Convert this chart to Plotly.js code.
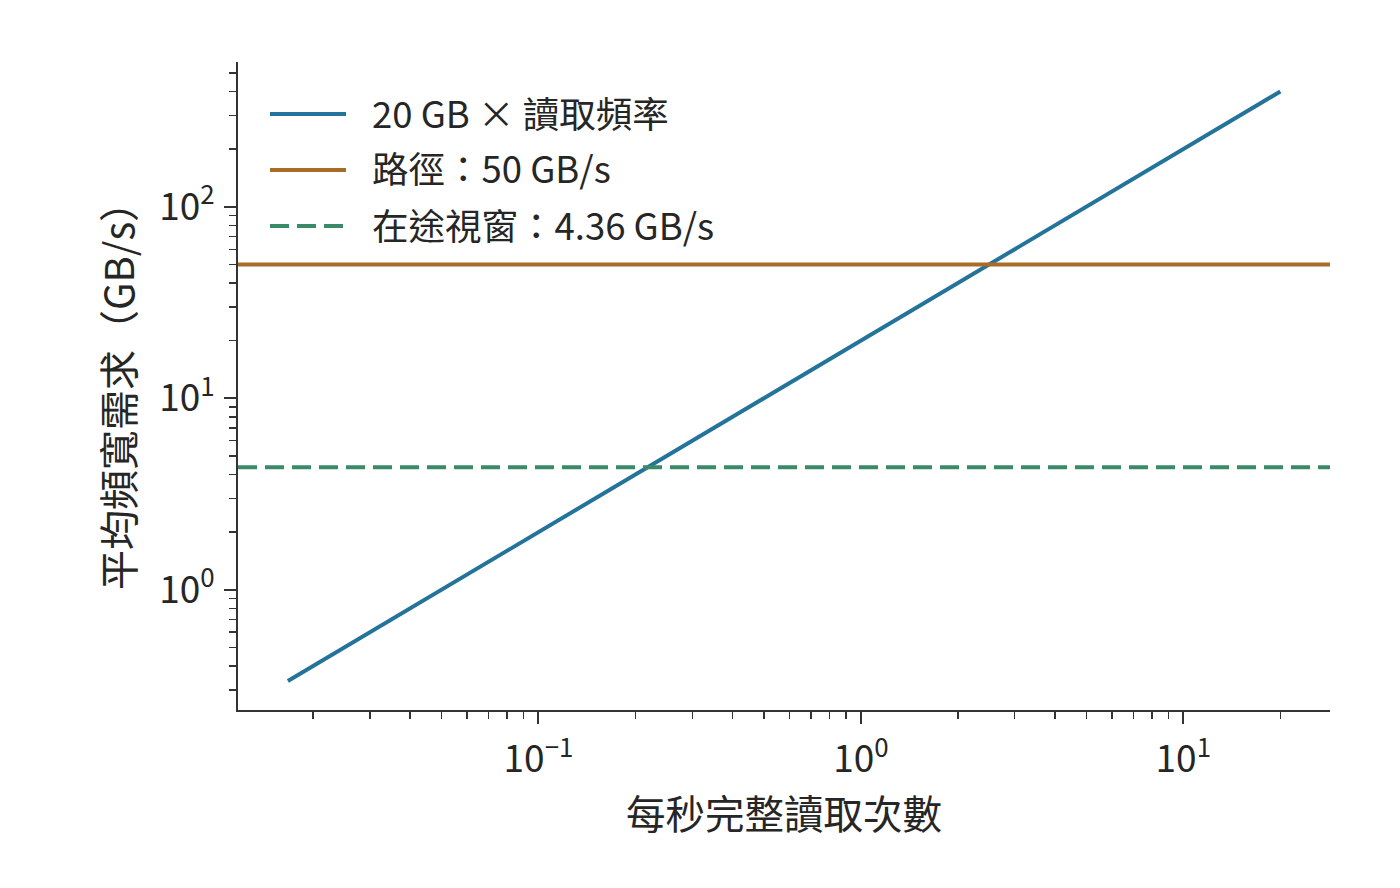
<!DOCTYPE html>
<html>
<head>
<meta charset="utf-8">
<script src="https://cdn.plot.ly/plotly-3.0.1.min.js"></script>
<style>
  html, body { margin: 0; padding: 0; background: #fff; }
  #chart { width: 1400px; height: 888px; }
</style>
</head>
<body>
<div id="chart"></div>
<script>
// data
const readFreq = [0.0167, 20];          // full reads per second
const demand = [0.334, 400];            // 20 GB x read frequency (GB/s)
const pathBw = 50;                      // path bandwidth (GB/s)
const windowBw = 4.36;                  // in-flight window (GB/s)
const seriesNames = ["20 GB × 讀取頻率", "路徑：50 GB/s", "在途視窗：4.36 GB/s"];
const seriesColors = ["#23739a", "#a86b28", "#3a8a68"];
const xTickVals = [0.1, 1, 10];
const xTickText = ["10<sup>−1</sup>", "10<sup>0</sup>", "10<sup>1</sup>"];
const yTickVals = [1, 10, 100];
const yTickText = ["10<sup>0</sup>", "10<sup>1</sup>", "10<sup>2</sup>"];

const xRange = [-1.932, 1.455];
const yRange = [-0.628, 2.756];
const xEnds = [Math.pow(10, xRange[0]), Math.pow(10, xRange[1])];

const font = "Noto Sans CJK TC, Noto Sans, sans-serif";
const ink = "#262626";

const traces = [
  {
    x: readFreq, y: demand, type: "scatter", mode: "lines",
    line: { color: seriesColors[0], width: 4 }, name: seriesNames[0]
  },
  {
    x: xEnds, y: [pathBw, pathBw], type: "scatter", mode: "lines",
    line: { color: seriesColors[1], width: 4 }, name: seriesNames[1]
  },
  {
    x: xEnds, y: [windowBw, windowBw], type: "scatter", mode: "lines",
    line: { color: seriesColors[2], width: 4, dash: "19px,8px" }, name: seriesNames[2]
  }
];

// hand-drawn legend (matplotlib style, long line samples)
const plotL = 238, plotT = 62, plotW = 1092, plotH = 648;
const px = (v) => (v - plotL) / plotW;
const py = (v) => (plotT + plotH - v) / plotH;
const rowsY = [114, 170, 226];
const shapes = [], annotations = [];
rowsY.forEach((ry, i) => {
  shapes.push({
    type: "line", xref: "paper", yref: "paper",
    x0: px(270), x1: px(346), y0: py(ry), y1: py(ry),
    line: { color: seriesColors[i], width: 4, dash: i === 2 ? "19px,8px" : "solid" }
  });
  annotations.push({
    xref: "paper", yref: "paper", x: px(370), y: py(ry - 2),
    xanchor: "left", yanchor: "middle", showarrow: false,
    text: seriesNames[i], font: { family: font, size: 36.5, color: ink }
  });
});

const axisCommon = {
  type: "log",
  showgrid: false, zeroline: false,
  showline: true, linecolor: "#333", linewidth: 2,
  ticks: "outside", ticklen: 12, tickwidth: 2, tickcolor: "#333",
  tickmode: "array",
  tickfont: { family: font, size: 37, color: ink },
  minor: { ticks: "outside", ticklen: 7, tickwidth: 1.5, tickcolor: "#333", showgrid: false, dtick: "D1" }
};

const layout = {
  width: 1400, height: 888,
  paper_bgcolor: "#fff", plot_bgcolor: "#fff",
  margin: { l: plotL, r: 1400 - plotL - plotW, t: plotT, b: 888 - plotT - plotH },
  showlegend: false,
  xaxis: Object.assign({}, axisCommon, {
    range: xRange,
    tickvals: xTickVals, ticktext: xTickText,
    ticklabelstandoff: 4,
    title: { text: "每秒完整讀取次數", font: { family: font, size: 39.5, color: ink }, standoff: 10 }
  }),
  yaxis: Object.assign({}, axisCommon, {
    range: yRange,
    tickvals: yTickVals, ticktext: yTickText,
    ticklabelstandoff: 2,
    title: { text: "平均頻寬需求（GB/s）", font: { family: font, size: 40, color: ink }, standoff: 12 }
  }),
  shapes: shapes,
  annotations: annotations
};

Plotly.newPlot("chart", traces, layout, { displayModeBar: false, staticPlot: true });
</script>
</body>
</html>
